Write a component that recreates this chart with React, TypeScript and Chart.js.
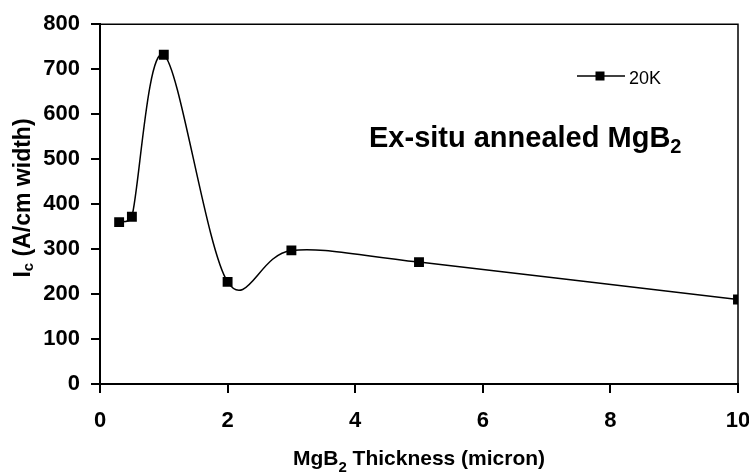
import React, { useEffect, useRef } from "react";
import { Chart, registerables } from "chart.js";

Chart.register(...registerables);

// ---- data ----
const thickness = [0.3, 0.5, 1, 2, 3, 5, 10];
const ic20K = [360, 372, 732, 227, 297, 271, 188];
const seriesLabel = "20K";
const xRange = [0, 10];
const xStep = 2;
const yRange = [0, 800];
const yStep = 100;
const xTitleParts = ["MgB", "2", " Thickness (micron)"];
const yTitleParts = ["I", "c", " (A/cm width)"];
const annotationParts = ["Ex-situ annealed MgB", "2", ""];

const FONT = "'Liberation Sans', Arial, sans-serif";

function drawRich(
  ctx: CanvasRenderingContext2D,
  parts: string[],
  x: number,
  y: number,
  mainSize: number,
  subSize: number,
  subShift: number,
  align: "left" | "center"
) {
  const mainFont = `bold ${mainSize}px ${FONT}`;
  const subFont = `bold ${subSize}px ${FONT}`;
  ctx.font = mainFont;
  const w0 = ctx.measureText(parts[0]).width;
  const w2 = ctx.measureText(parts[2]).width;
  ctx.font = subFont;
  const w1 = ctx.measureText(parts[1]).width;
  const total = w0 + w1 + w2;
  let cx = align === "center" ? x - total / 2 : x;
  ctx.textAlign = "left";
  ctx.textBaseline = "alphabetic";
  ctx.font = mainFont;
  ctx.fillText(parts[0], cx, y);
  cx += w0;
  ctx.font = subFont;
  ctx.fillText(parts[1], cx, y + subShift);
  cx += w1;
  ctx.font = mainFont;
  ctx.fillText(parts[2], cx, y);
}

// Excel-like smoothing: Catmull-Rom control points (1/6 of neighbour chord),
// each arm capped to half of its own segment length
const smoothPlugin = {
  id: "excelSmooth",
  beforeDatasetDraw(chart: any, args: any) {
    const meta = args.meta;
    const line = meta.dataset;
    if (!line) return;
    line.updateControlPoints(chart.chartArea, meta.iScale.axis);
    const pts = meta.data;
    for (let i = 0; i < pts.length; i++) {
      const p = pts[i];
      const prev = pts[i - 1] || p;
      const next = pts[i + 1] || p;
      const dx = (next.x - prev.x) / 6;
      const dy = (next.y - prev.y) / 6;
      const arm = Math.hypot(dx, dy) || 1;
      const dl = Math.hypot(p.x - prev.x, p.y - prev.y);
      const dr = Math.hypot(next.x - p.x, next.y - p.y);
      const sl = Math.min(1, (0.5 * dl) / arm);
      const sr = Math.min(1, (0.5 * dr) / arm);
      p.cp1x = p.x - dx * sl;
      p.cp1y = p.y - dy * sl;
      p.cp2x = p.x + dx * sr;
      p.cp2y = p.y + dy * sr;
    }
    line._path = undefined;
  },
};

const decorPlugin = {
  id: "decor",
  afterDraw(chart: any) {
    const ctx: CanvasRenderingContext2D = chart.ctx;
    const a = chart.chartArea;
    ctx.save();
    // frame top & right
    ctx.strokeStyle = "#000";
    ctx.lineWidth = 1.5;
    ctx.beginPath();
    ctx.moveTo(a.left, a.top);
    ctx.lineTo(a.right, a.top);
    ctx.lineTo(a.right, a.bottom);
    ctx.stroke();

    ctx.fillStyle = "#000";
    // x title
    drawRich(ctx, xTitleParts, (a.left + a.right) / 2, 465, 21, 15, 7, "center");
    // y title (rotated)
    ctx.save();
    ctx.translate(30, 198);
    ctx.rotate(-Math.PI / 2);
    drawRich(ctx, yTitleParts, 0, 0, 23, 15, 3, "center");
    ctx.restore();
    // annotation
    drawRich(ctx, annotationParts, 369, 147, 29, 20, 6, "left");

    // legend
    const ly = 76;
    ctx.lineWidth = 1.5;
    ctx.beginPath();
    ctx.moveTo(577, ly);
    ctx.lineTo(625, ly);
    ctx.stroke();
    ctx.fillRect(600 - 4.5, ly - 4.5, 9, 9);
    ctx.font = `${18}px ${FONT}`;
    ctx.textAlign = "left";
    ctx.textBaseline = "alphabetic";
    ctx.fillText(seriesLabel, 629, 84);
    ctx.restore();
  },
};

export default function App() {
  const ref = useRef<HTMLCanvasElement | null>(null);
  useEffect(() => {
    if (!ref.current) return;
    const chart = new Chart(ref.current, {
      type: "line",
      data: {
        datasets: [
          {
            label: seriesLabel,
            data: thickness.map((x, i) => ({ x, y: ic20K[i] })),
            borderColor: "#000",
            backgroundColor: "#000",
            borderWidth: 1.5,
            tension: 0.4,
            pointStyle: "rect",
            pointRadius: 7,
            pointHoverRadius: 7,
            pointBorderWidth: 0,
            fill: false,
          },
        ],
      },
      options: {
        responsive: false,
        animation: false,
        devicePixelRatio: 1,
        layout: { padding: { top: 23, right: 11, left: 0, bottom: 0 } },
        plugins: { legend: { display: false }, tooltip: { enabled: false } },
        scales: {
          x: {
            type: "linear",
            min: xRange[0],
            max: xRange[1],
            afterFit: (s: any) => {
              s.height = 89;
              s.paddingLeft = 0;
              s.paddingRight = 0;
            },
            ticks: {
              stepSize: xStep,
              color: "#000",
              padding: 15,
              font: { family: FONT, size: 22, weight: "bold" },
              maxRotation: 0,
            },
            grid: { drawOnChartArea: false, drawTicks: true, tickLength: 9, color: "#000", lineWidth: 2 },
            border: { display: true, color: "#000", width: 2 },
          },
          y: {
            type: "linear",
            min: yRange[0],
            max: yRange[1],
            afterFit: (s: any) => {
              s.width = 100;
            },
            ticks: {
              stepSize: yStep,
              color: "#000",
              padding: 11,
              font: { family: FONT, size: 22, weight: "bold" },
            },
            grid: { drawOnChartArea: false, drawTicks: true, tickLength: 9, color: "#000", lineWidth: 2 },
            border: { display: true, color: "#000", width: 2 },
          },
        },
      },
      plugins: [smoothPlugin, decorPlugin],
    });
    return () => chart.destroy();
  }, []);
  return (
    <div style={{ position: "absolute", left: 0, top: 0, width: 749, height: 473, background: "#fff" }}>
      <canvas ref={ref} width={749} height={473} style={{ width: 749, height: 473, display: "block" }} />
    </div>
  );
}
